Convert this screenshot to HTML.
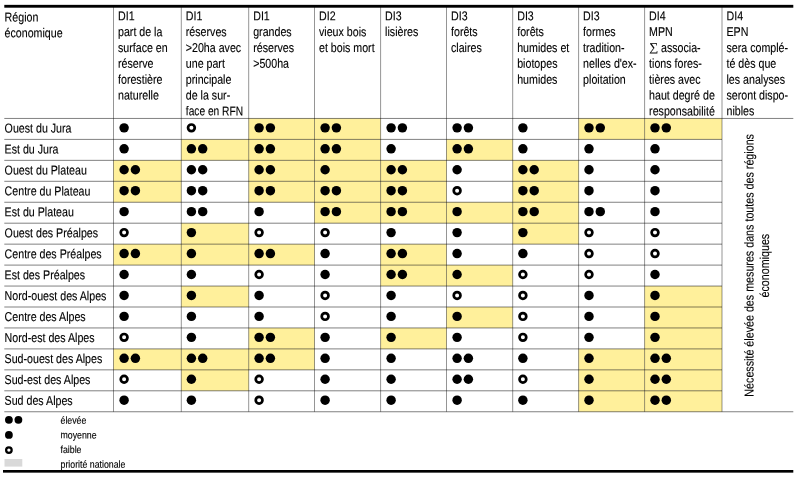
<!DOCTYPE html>
<html lang="fr">
<head>
<meta charset="utf-8">
<title>Tableau</title>
<style>
html,body{margin:0;padding:0;background:#fff;}
body{width:800px;height:478px;overflow:hidden;}
svg{display:block;font-family:"Liberation Sans",sans-serif;fill:#000;}
svg text{white-space:pre;text-rendering:geometricPrecision;stroke:#000;stroke-width:0.13px;}
</style>
</head>
<body>
<svg width="800" height="478" viewBox="0 0 800 478">
<rect x="248.7" y="118.45" width="65.8" height="20.95" fill="#FFF09B"/>
<rect x="314.5" y="118.45" width="66.1" height="20.95" fill="#FFF09B"/>
<rect x="578.6" y="118.45" width="66" height="20.95" fill="#FFF09B"/>
<rect x="644.6" y="118.45" width="77.4" height="20.95" fill="#FFF09B"/>
<rect x="181.3" y="139.4" width="67.4" height="20.95" fill="#FFF09B"/>
<rect x="248.7" y="139.4" width="65.8" height="20.95" fill="#FFF09B"/>
<rect x="314.5" y="139.4" width="66.1" height="20.95" fill="#FFF09B"/>
<rect x="446.5" y="139.4" width="66.2" height="20.95" fill="#FFF09B"/>
<rect x="113.5" y="160.35" width="67.8" height="20.95" fill="#FFF09B"/>
<rect x="248.7" y="160.35" width="65.8" height="20.95" fill="#FFF09B"/>
<rect x="314.5" y="160.35" width="66.1" height="20.95" fill="#FFF09B"/>
<rect x="380.6" y="160.35" width="65.9" height="20.95" fill="#FFF09B"/>
<rect x="512.7" y="160.35" width="65.9" height="20.95" fill="#FFF09B"/>
<rect x="113.5" y="181.3" width="67.8" height="20.95" fill="#FFF09B"/>
<rect x="248.7" y="181.3" width="65.8" height="20.95" fill="#FFF09B"/>
<rect x="314.5" y="181.3" width="66.1" height="20.95" fill="#FFF09B"/>
<rect x="380.6" y="181.3" width="65.9" height="20.95" fill="#FFF09B"/>
<rect x="512.7" y="181.3" width="65.9" height="20.95" fill="#FFF09B"/>
<rect x="314.5" y="202.25" width="66.1" height="20.95" fill="#FFF09B"/>
<rect x="380.6" y="202.25" width="65.9" height="20.95" fill="#FFF09B"/>
<rect x="446.5" y="202.25" width="66.2" height="20.95" fill="#FFF09B"/>
<rect x="512.7" y="202.25" width="65.9" height="20.95" fill="#FFF09B"/>
<rect x="181.3" y="223.2" width="67.4" height="20.95" fill="#FFF09B"/>
<rect x="512.7" y="223.2" width="65.9" height="20.95" fill="#FFF09B"/>
<rect x="113.5" y="244.15" width="67.8" height="20.95" fill="#FFF09B"/>
<rect x="181.3" y="244.15" width="67.4" height="20.95" fill="#FFF09B"/>
<rect x="248.7" y="244.15" width="65.8" height="20.95" fill="#FFF09B"/>
<rect x="380.6" y="244.15" width="65.9" height="20.95" fill="#FFF09B"/>
<rect x="380.6" y="265.1" width="65.9" height="20.95" fill="#FFF09B"/>
<rect x="446.5" y="265.1" width="66.2" height="20.95" fill="#FFF09B"/>
<rect x="181.3" y="286.05" width="67.4" height="20.95" fill="#FFF09B"/>
<rect x="644.6" y="286.05" width="77.4" height="20.95" fill="#FFF09B"/>
<rect x="446.5" y="307" width="66.2" height="20.95" fill="#FFF09B"/>
<rect x="644.6" y="307" width="77.4" height="20.95" fill="#FFF09B"/>
<rect x="248.7" y="327.95" width="65.8" height="20.95" fill="#FFF09B"/>
<rect x="380.6" y="327.95" width="65.9" height="20.95" fill="#FFF09B"/>
<rect x="644.6" y="327.95" width="77.4" height="20.95" fill="#FFF09B"/>
<rect x="113.5" y="348.9" width="67.8" height="20.95" fill="#FFF09B"/>
<rect x="181.3" y="348.9" width="67.4" height="20.95" fill="#FFF09B"/>
<rect x="248.7" y="348.9" width="65.8" height="20.95" fill="#FFF09B"/>
<rect x="578.6" y="348.9" width="66" height="20.95" fill="#FFF09B"/>
<rect x="644.6" y="348.9" width="77.4" height="20.95" fill="#FFF09B"/>
<rect x="181.3" y="369.85" width="67.4" height="20.95" fill="#FFF09B"/>
<rect x="578.6" y="369.85" width="66" height="20.95" fill="#FFF09B"/>
<rect x="644.6" y="369.85" width="77.4" height="20.95" fill="#FFF09B"/>
<rect x="578.6" y="390.8" width="66" height="20.95" fill="#FFF09B"/>
<rect x="644.6" y="390.8" width="77.4" height="20.95" fill="#FFF09B"/>
<g stroke="#000" stroke-width="0.5" fill="none">
<line x1="4.3" y1="118.45" x2="793.3" y2="118.45"/>
<line x1="4.3" y1="139.4" x2="722" y2="139.4"/>
<line x1="4.3" y1="160.35" x2="722" y2="160.35"/>
<line x1="4.3" y1="181.3" x2="722" y2="181.3"/>
<line x1="4.3" y1="202.25" x2="722" y2="202.25"/>
<line x1="4.3" y1="223.2" x2="722" y2="223.2"/>
<line x1="4.3" y1="244.15" x2="722" y2="244.15"/>
<line x1="4.3" y1="265.1" x2="722" y2="265.1"/>
<line x1="4.3" y1="286.05" x2="722" y2="286.05"/>
<line x1="4.3" y1="307" x2="722" y2="307"/>
<line x1="4.3" y1="327.95" x2="722" y2="327.95"/>
<line x1="4.3" y1="348.9" x2="722" y2="348.9"/>
<line x1="4.3" y1="369.85" x2="722" y2="369.85"/>
<line x1="4.3" y1="390.8" x2="722" y2="390.8"/>
<line x1="4.3" y1="411.75" x2="793.3" y2="411.75"/>
</g>
<g stroke="#000" stroke-width="0.42" fill="none">
<line x1="113.5" y1="7" x2="113.5" y2="411.75"/>
<line x1="181.3" y1="7" x2="181.3" y2="411.75"/>
<line x1="248.7" y1="7" x2="248.7" y2="411.75"/>
<line x1="314.5" y1="7" x2="314.5" y2="411.75"/>
<line x1="380.6" y1="7" x2="380.6" y2="411.75"/>
<line x1="446.5" y1="7" x2="446.5" y2="411.75"/>
<line x1="512.7" y1="7" x2="512.7" y2="411.75"/>
<line x1="578.6" y1="7" x2="578.6" y2="411.75"/>
<line x1="644.6" y1="7" x2="644.6" y2="411.75"/>
<line x1="722" y1="7" x2="722" y2="411.75"/>
</g>
<rect x="4.3" y="4.85" width="789" height="2.85" fill="#000"/>
<rect x="3" y="470" width="790.3" height="2.65" fill="#000"/>
<text transform="translate(4.6 21.45) skewY(0.05) scale(0.829 1)" font-size="12.85">Région</text>
<text transform="translate(4.6 37.3) skewY(0.05) scale(0.829 1)" font-size="12.85">économique</text>
<text transform="translate(118 20.25) skewY(0.05) scale(0.829 1)" font-size="12.85">DI1</text>
<text transform="translate(118 36.1) skewY(0.05) scale(0.829 1)" font-size="12.85">part de la</text>
<text transform="translate(118 51.95) skewY(0.05) scale(0.829 1)" font-size="12.85">surface en</text>
<text transform="translate(118 67.8) skewY(0.05) scale(0.829 1)" font-size="12.85">réserve</text>
<text transform="translate(118 83.65) skewY(0.05) scale(0.829 1)" font-size="12.85">forestière</text>
<text transform="translate(118 99.5) skewY(0.05) scale(0.829 1)" font-size="12.85">naturelle</text>
<text transform="translate(185.8 20.25) skewY(0.05) scale(0.829 1)" font-size="12.85">DI1</text>
<text transform="translate(185.8 36.1) skewY(0.05) scale(0.829 1)" font-size="12.85">réserves</text>
<text transform="translate(185.8 51.95) skewY(0.05) scale(0.829 1)" font-size="12.85">&gt;20ha avec</text>
<text transform="translate(185.8 67.8) skewY(0.05) scale(0.829 1)" font-size="12.85">une part</text>
<text transform="translate(185.8 83.65) skewY(0.05) scale(0.829 1)" font-size="12.85">principale</text>
<text transform="translate(185.8 99.5) skewY(0.05) scale(0.829 1)" font-size="12.85">de la sur-</text>
<text transform="translate(185.8 115.35) skewY(0.05) scale(0.794 1)" font-size="12.85">face en RFN</text>
<text transform="translate(253.2 20.25) skewY(0.05) scale(0.829 1)" font-size="12.85">DI1</text>
<text transform="translate(253.2 36.1) skewY(0.05) scale(0.829 1)" font-size="12.85">grandes</text>
<text transform="translate(253.2 51.95) skewY(0.05) scale(0.829 1)" font-size="12.85">réserves</text>
<text transform="translate(253.2 67.8) skewY(0.05) scale(0.829 1)" font-size="12.85">&gt;500ha</text>
<text transform="translate(319 20.25) skewY(0.05) scale(0.829 1)" font-size="12.85">DI2</text>
<text transform="translate(319 36.1) skewY(0.05) scale(0.829 1)" font-size="12.85">vieux bois</text>
<text transform="translate(319 51.95) skewY(0.05) scale(0.829 1)" font-size="12.85">et bois mort</text>
<text transform="translate(385.1 20.25) skewY(0.05) scale(0.829 1)" font-size="12.85">DI3</text>
<text transform="translate(385.1 36.1) skewY(0.05) scale(0.829 1)" font-size="12.85">lisières</text>
<text transform="translate(451 20.25) skewY(0.05) scale(0.829 1)" font-size="12.85">DI3</text>
<text transform="translate(451 36.1) skewY(0.05) scale(0.829 1)" font-size="12.85">forêts</text>
<text transform="translate(451 51.95) skewY(0.05) scale(0.829 1)" font-size="12.85">claires</text>
<text transform="translate(517.2 20.25) skewY(0.05) scale(0.829 1)" font-size="12.85">DI3</text>
<text transform="translate(517.2 36.1) skewY(0.05) scale(0.829 1)" font-size="12.85">forêts</text>
<text transform="translate(517.2 51.95) skewY(0.05) scale(0.829 1)" font-size="12.85">humides et</text>
<text transform="translate(517.2 67.8) skewY(0.05) scale(0.829 1)" font-size="12.85">biotopes</text>
<text transform="translate(517.2 83.65) skewY(0.05) scale(0.829 1)" font-size="12.85">humides</text>
<text transform="translate(583.1 20.25) skewY(0.05) scale(0.829 1)" font-size="12.85">DI3</text>
<text transform="translate(583.1 36.1) skewY(0.05) scale(0.829 1)" font-size="12.85">formes</text>
<text transform="translate(583.1 51.95) skewY(0.05) scale(0.829 1)" font-size="12.85">tradition-</text>
<text transform="translate(583.1 67.8) skewY(0.05) scale(0.829 1)" font-size="12.85">nelles d'ex-</text>
<text transform="translate(583.1 83.65) skewY(0.05) scale(0.829 1)" font-size="12.85">ploitation</text>
<text transform="translate(649.1 20.25) skewY(0.05) scale(0.829 1)" font-size="12.85">DI4</text>
<text transform="translate(649.1 36.1) skewY(0.05) scale(0.829 1)" font-size="12.85">MPN</text>
<text transform="translate(649.2 51) skewY(0.05) scale(1.07 1)" font-size="11.75" font-family="'Liberation Serif','DejaVu Serif',serif">∑</text>
<text transform="translate(661 51.95) skewY(0.05) scale(0.829 1)" font-size="12.85">associa-</text>
<text transform="translate(649.1 67.8) skewY(0.05) scale(0.829 1)" font-size="12.85">tions fores-</text>
<text transform="translate(649.1 83.65) skewY(0.05) scale(0.829 1)" font-size="12.85">tières avec</text>
<text transform="translate(649.1 99.5) skewY(0.05) scale(0.829 1)" font-size="12.85">haut degré de</text>
<text transform="translate(649.1 115.35) skewY(0.05) scale(0.829 1)" font-size="12.85">responsabilité</text>
<text transform="translate(726.5 20.25) skewY(0.05) scale(0.829 1)" font-size="12.85">DI4</text>
<text transform="translate(726.5 36.1) skewY(0.05) scale(0.829 1)" font-size="12.85">EPN</text>
<text transform="translate(726.5 51.95) skewY(0.05) scale(0.829 1)" font-size="12.85">sera complé-</text>
<text transform="translate(726.5 67.8) skewY(0.05) scale(0.829 1)" font-size="12.85">té dès que</text>
<text transform="translate(726.5 83.65) skewY(0.05) scale(0.829 1)" font-size="12.85">les analyses</text>
<text transform="translate(726.5 99.5) skewY(0.05) scale(0.829 1)" font-size="12.85">seront dispo-</text>
<text transform="translate(726.5 115.35) skewY(0.05) scale(0.829 1)" font-size="12.85">nibles</text>
<text transform="translate(4.6 132.5) skewY(0.05) scale(0.829 1)" font-size="12.85">Ouest du Jura</text>
<circle cx="124.1" cy="127.85" r="4.72"/>
<circle cx="191.4" cy="127.85" r="3.363" fill="#fff" stroke="#000" stroke-width="2.714"/>
<circle cx="259.1" cy="127.85" r="4.72"/>
<circle cx="270.4" cy="127.85" r="4.72"/>
<circle cx="325.1" cy="127.85" r="4.72"/>
<circle cx="336.4" cy="127.85" r="4.72"/>
<circle cx="391.1" cy="127.85" r="4.72"/>
<circle cx="402.4" cy="127.85" r="4.72"/>
<circle cx="457.1" cy="127.85" r="4.72"/>
<circle cx="468.4" cy="127.85" r="4.72"/>
<circle cx="522.9" cy="127.85" r="4.72"/>
<circle cx="589" cy="127.85" r="4.72"/>
<circle cx="600.3" cy="127.85" r="4.72"/>
<circle cx="655" cy="127.85" r="4.72"/>
<circle cx="666.3" cy="127.85" r="4.72"/>
<text transform="translate(4.6 153.45) skewY(0.05) scale(0.829 1)" font-size="12.85">Est du Jura</text>
<circle cx="124.1" cy="148.8" r="4.72"/>
<circle cx="191.4" cy="148.8" r="4.72"/>
<circle cx="202.7" cy="148.8" r="4.72"/>
<circle cx="259.1" cy="148.8" r="4.72"/>
<circle cx="270.4" cy="148.8" r="4.72"/>
<circle cx="325.1" cy="148.8" r="4.72"/>
<circle cx="336.4" cy="148.8" r="4.72"/>
<circle cx="391.1" cy="148.8" r="4.72"/>
<circle cx="457.1" cy="148.8" r="4.72"/>
<circle cx="468.4" cy="148.8" r="4.72"/>
<circle cx="522.9" cy="148.8" r="4.72"/>
<circle cx="589" cy="148.8" r="4.72"/>
<circle cx="655" cy="148.8" r="4.72"/>
<text transform="translate(4.6 174.4) skewY(0.05) scale(0.829 1)" font-size="12.85">Ouest du Plateau</text>
<circle cx="124.1" cy="169.75" r="4.72"/>
<circle cx="135.4" cy="169.75" r="4.72"/>
<circle cx="191.4" cy="169.75" r="4.72"/>
<circle cx="202.7" cy="169.75" r="4.72"/>
<circle cx="259.1" cy="169.75" r="4.72"/>
<circle cx="270.4" cy="169.75" r="4.72"/>
<circle cx="325.1" cy="169.75" r="4.72"/>
<circle cx="391.1" cy="169.75" r="4.72"/>
<circle cx="402.4" cy="169.75" r="4.72"/>
<circle cx="457.1" cy="169.75" r="4.72"/>
<circle cx="522.9" cy="169.75" r="4.72"/>
<circle cx="534.2" cy="169.75" r="4.72"/>
<circle cx="589" cy="169.75" r="4.72"/>
<circle cx="655" cy="169.75" r="4.72"/>
<text transform="translate(4.6 195.35) skewY(0.05) scale(0.829 1)" font-size="12.85">Centre du Plateau</text>
<circle cx="124.1" cy="190.7" r="4.72"/>
<circle cx="135.4" cy="190.7" r="4.72"/>
<circle cx="191.4" cy="190.7" r="4.72"/>
<circle cx="202.7" cy="190.7" r="4.72"/>
<circle cx="259.1" cy="190.7" r="4.72"/>
<circle cx="270.4" cy="190.7" r="4.72"/>
<circle cx="325.1" cy="190.7" r="4.72"/>
<circle cx="336.4" cy="190.7" r="4.72"/>
<circle cx="391.1" cy="190.7" r="4.72"/>
<circle cx="402.4" cy="190.7" r="4.72"/>
<circle cx="457.1" cy="190.7" r="3.363" fill="#fff" stroke="#000" stroke-width="2.714"/>
<circle cx="522.9" cy="190.7" r="4.72"/>
<circle cx="534.2" cy="190.7" r="4.72"/>
<circle cx="589" cy="190.7" r="4.72"/>
<circle cx="655" cy="190.7" r="4.72"/>
<text transform="translate(4.6 216.3) skewY(0.05) scale(0.829 1)" font-size="12.85">Est du Plateau</text>
<circle cx="124.1" cy="211.65" r="4.72"/>
<circle cx="191.4" cy="211.65" r="4.72"/>
<circle cx="202.7" cy="211.65" r="4.72"/>
<circle cx="259.1" cy="211.65" r="4.72"/>
<circle cx="325.1" cy="211.65" r="4.72"/>
<circle cx="336.4" cy="211.65" r="4.72"/>
<circle cx="391.1" cy="211.65" r="4.72"/>
<circle cx="402.4" cy="211.65" r="4.72"/>
<circle cx="457.1" cy="211.65" r="4.72"/>
<circle cx="522.9" cy="211.65" r="4.72"/>
<circle cx="534.2" cy="211.65" r="4.72"/>
<circle cx="589" cy="211.65" r="4.72"/>
<circle cx="600.3" cy="211.65" r="4.72"/>
<circle cx="655" cy="211.65" r="4.72"/>
<text transform="translate(4.6 237.25) skewY(0.05) scale(0.829 1)" font-size="12.85">Ouest des Préalpes</text>
<circle cx="124.1" cy="232.6" r="3.363" fill="#fff" stroke="#000" stroke-width="2.714"/>
<circle cx="191.4" cy="232.6" r="4.72"/>
<circle cx="259.1" cy="232.6" r="3.363" fill="#fff" stroke="#000" stroke-width="2.714"/>
<circle cx="325.1" cy="232.6" r="3.363" fill="#fff" stroke="#000" stroke-width="2.714"/>
<circle cx="391.1" cy="232.6" r="4.72"/>
<circle cx="457.1" cy="232.6" r="4.72"/>
<circle cx="522.9" cy="232.6" r="4.72"/>
<circle cx="589" cy="232.6" r="3.363" fill="#fff" stroke="#000" stroke-width="2.714"/>
<circle cx="655" cy="232.6" r="3.363" fill="#fff" stroke="#000" stroke-width="2.714"/>
<text transform="translate(4.6 258.2) skewY(0.05) scale(0.829 1)" font-size="12.85">Centre des Préalpes</text>
<circle cx="124.1" cy="253.55" r="4.72"/>
<circle cx="135.4" cy="253.55" r="4.72"/>
<circle cx="191.4" cy="253.55" r="4.72"/>
<circle cx="259.1" cy="253.55" r="4.72"/>
<circle cx="270.4" cy="253.55" r="4.72"/>
<circle cx="325.1" cy="253.55" r="4.72"/>
<circle cx="391.1" cy="253.55" r="4.72"/>
<circle cx="402.4" cy="253.55" r="4.72"/>
<circle cx="457.1" cy="253.55" r="4.72"/>
<circle cx="522.9" cy="253.55" r="4.72"/>
<circle cx="589" cy="253.55" r="3.363" fill="#fff" stroke="#000" stroke-width="2.714"/>
<circle cx="655" cy="253.55" r="3.363" fill="#fff" stroke="#000" stroke-width="2.714"/>
<text transform="translate(4.6 279.15) skewY(0.05) scale(0.829 1)" font-size="12.85">Est des Préalpes</text>
<circle cx="124.1" cy="274.5" r="4.72"/>
<circle cx="191.4" cy="274.5" r="4.72"/>
<circle cx="259.1" cy="274.5" r="3.363" fill="#fff" stroke="#000" stroke-width="2.714"/>
<circle cx="325.1" cy="274.5" r="4.72"/>
<circle cx="391.1" cy="274.5" r="4.72"/>
<circle cx="402.4" cy="274.5" r="4.72"/>
<circle cx="457.1" cy="274.5" r="4.72"/>
<circle cx="522.9" cy="274.5" r="3.363" fill="#fff" stroke="#000" stroke-width="2.714"/>
<circle cx="589" cy="274.5" r="3.363" fill="#fff" stroke="#000" stroke-width="2.714"/>
<circle cx="655" cy="274.5" r="4.72"/>
<text transform="translate(4.6 300.1) skewY(0.05) scale(0.829 1)" font-size="12.85">Nord-ouest des Alpes</text>
<circle cx="124.1" cy="295.45" r="4.72"/>
<circle cx="191.4" cy="295.45" r="4.72"/>
<circle cx="259.1" cy="295.45" r="4.72"/>
<circle cx="325.1" cy="295.45" r="3.363" fill="#fff" stroke="#000" stroke-width="2.714"/>
<circle cx="391.1" cy="295.45" r="4.72"/>
<circle cx="457.1" cy="295.45" r="3.363" fill="#fff" stroke="#000" stroke-width="2.714"/>
<circle cx="522.9" cy="295.45" r="3.363" fill="#fff" stroke="#000" stroke-width="2.714"/>
<circle cx="589" cy="295.45" r="4.72"/>
<circle cx="655" cy="295.45" r="4.72"/>
<text transform="translate(4.6 321.05) skewY(0.05) scale(0.829 1)" font-size="12.85">Centre des Alpes</text>
<circle cx="124.1" cy="316.4" r="4.72"/>
<circle cx="191.4" cy="316.4" r="4.72"/>
<circle cx="259.1" cy="316.4" r="4.72"/>
<circle cx="325.1" cy="316.4" r="3.363" fill="#fff" stroke="#000" stroke-width="2.714"/>
<circle cx="391.1" cy="316.4" r="4.72"/>
<circle cx="457.1" cy="316.4" r="4.72"/>
<circle cx="522.9" cy="316.4" r="3.363" fill="#fff" stroke="#000" stroke-width="2.714"/>
<circle cx="589" cy="316.4" r="4.72"/>
<circle cx="655" cy="316.4" r="4.72"/>
<text transform="translate(4.6 342) skewY(0.05) scale(0.829 1)" font-size="12.85">Nord-est des Alpes</text>
<circle cx="124.1" cy="337.35" r="3.363" fill="#fff" stroke="#000" stroke-width="2.714"/>
<circle cx="191.4" cy="337.35" r="4.72"/>
<circle cx="259.1" cy="337.35" r="4.72"/>
<circle cx="270.4" cy="337.35" r="4.72"/>
<circle cx="325.1" cy="337.35" r="4.72"/>
<circle cx="391.1" cy="337.35" r="4.72"/>
<circle cx="457.1" cy="337.35" r="4.72"/>
<circle cx="522.9" cy="337.35" r="3.363" fill="#fff" stroke="#000" stroke-width="2.714"/>
<circle cx="589" cy="337.35" r="4.72"/>
<circle cx="655" cy="337.35" r="4.72"/>
<text transform="translate(4.6 362.95) skewY(0.05) scale(0.829 1)" font-size="12.85">Sud-ouest des Alpes</text>
<circle cx="124.1" cy="358.3" r="4.72"/>
<circle cx="135.4" cy="358.3" r="4.72"/>
<circle cx="191.4" cy="358.3" r="4.72"/>
<circle cx="202.7" cy="358.3" r="4.72"/>
<circle cx="259.1" cy="358.3" r="4.72"/>
<circle cx="270.4" cy="358.3" r="4.72"/>
<circle cx="325.1" cy="358.3" r="4.72"/>
<circle cx="391.1" cy="358.3" r="4.72"/>
<circle cx="457.1" cy="358.3" r="4.72"/>
<circle cx="468.4" cy="358.3" r="4.72"/>
<circle cx="522.9" cy="358.3" r="4.72"/>
<circle cx="589" cy="358.3" r="4.72"/>
<circle cx="655" cy="358.3" r="4.72"/>
<circle cx="666.3" cy="358.3" r="4.72"/>
<text transform="translate(4.6 383.9) skewY(0.05) scale(0.829 1)" font-size="12.85">Sud-est des Alpes</text>
<circle cx="124.1" cy="379.25" r="3.363" fill="#fff" stroke="#000" stroke-width="2.714"/>
<circle cx="191.4" cy="379.25" r="4.72"/>
<circle cx="259.1" cy="379.25" r="3.363" fill="#fff" stroke="#000" stroke-width="2.714"/>
<circle cx="325.1" cy="379.25" r="4.72"/>
<circle cx="391.1" cy="379.25" r="4.72"/>
<circle cx="457.1" cy="379.25" r="4.72"/>
<circle cx="468.4" cy="379.25" r="4.72"/>
<circle cx="522.9" cy="379.25" r="3.363" fill="#fff" stroke="#000" stroke-width="2.714"/>
<circle cx="589" cy="379.25" r="4.72"/>
<circle cx="655" cy="379.25" r="4.72"/>
<circle cx="666.3" cy="379.25" r="4.72"/>
<text transform="translate(4.6 404.85) skewY(0.05) scale(0.829 1)" font-size="12.85">Sud des Alpes</text>
<circle cx="124.1" cy="400.2" r="4.72"/>
<circle cx="191.4" cy="400.2" r="4.72"/>
<circle cx="259.1" cy="400.2" r="3.363" fill="#fff" stroke="#000" stroke-width="2.714"/>
<circle cx="325.1" cy="400.2" r="4.72"/>
<circle cx="391.1" cy="400.2" r="4.72"/>
<circle cx="457.1" cy="400.2" r="4.72"/>
<circle cx="522.9" cy="400.2" r="4.72"/>
<circle cx="589" cy="400.2" r="4.72"/>
<circle cx="655" cy="400.2" r="4.72"/>
<circle cx="666.3" cy="400.2" r="4.72"/>
<text transform="translate(753.5 265.35) rotate(-90) skewY(0.05) scale(0.834 1)" font-size="12.85" text-anchor="middle">Nécessité élevée des mesures dans toutes des régions</text>
<text transform="translate(769 265.65) rotate(-90) skewY(0.05) scale(0.834 1)" font-size="12.85" text-anchor="middle">économiques</text>
<circle cx="8.9" cy="419.8" r="3.9"/>
<circle cx="18.4" cy="419.8" r="3.9"/>
<circle cx="8.9" cy="434.9" r="3.9"/>
<circle cx="8.9" cy="450.1" r="2.779" fill="#fff" stroke="#000" stroke-width="2.242"/>
<rect x="4.5" y="459" width="17.8" height="7.6" fill="#d9d9d9"/>
<text transform="translate(60.5 423.7) skewY(0.05) scale(0.853 1)" font-size="10.3">élevée</text>
<text transform="translate(60.5 438.37) skewY(0.05) scale(0.853 1)" font-size="10.3">moyenne</text>
<text transform="translate(60.5 453.04) skewY(0.05) scale(0.853 1)" font-size="10.3">faible</text>
<text transform="translate(60.5 467.71) skewY(0.05) scale(0.853 1)" font-size="10.3">priorité nationale</text>
</svg>
</body>
</html>
